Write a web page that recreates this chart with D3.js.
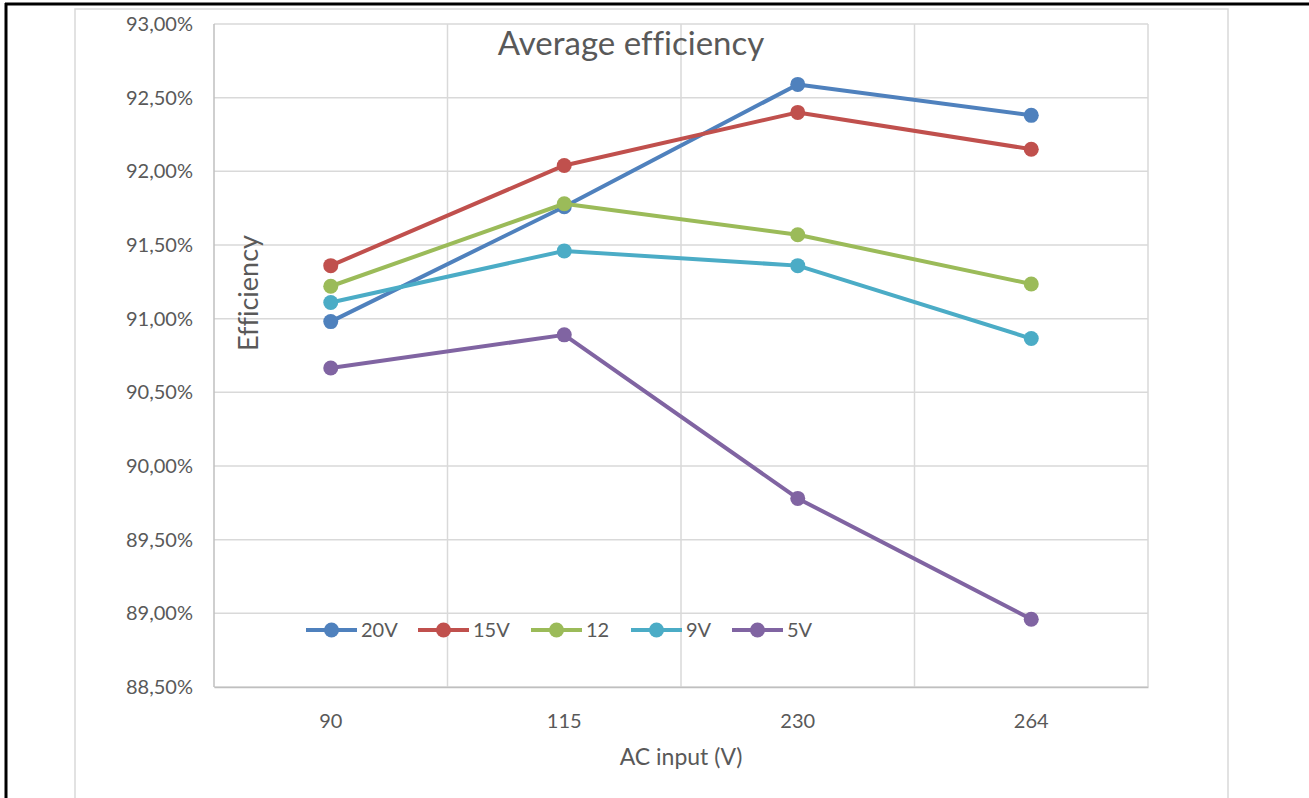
<!DOCTYPE html>
<html lang="en">
<head>
    <meta charset="UTF-8">
    <title>Average efficiency</title>
    <script src="https://d3js.org/d3.v7.min.js"></script>
    <style>
        body { margin: 0; background: white; }
        svg { font-family: Lato, "Open Sans", sans-serif; font-variant-ligatures: none; }
        .tick text { fill: #595959; }
    </style>
</head>
<body>
    <svg width="1309" height="798"></svg>
    <script>
        // data
        var categories = ["90", "115", "230", "264"];
        var seriesNames = ["20V", "15V", "12", "9V", "5V"];
        var v20 = [90.98, 91.76, 92.59, 92.38];
        var v15 = [91.36, 92.04, 92.40, 92.15];
        var v12 = [91.22, 91.78, 91.57, 91.235];
        var v9 = [91.11, 91.46, 91.36, 90.865];
        var v5 = [90.665, 90.89, 89.78, 88.96];
        var yTicks = [88.5, 89, 89.5, 90, 90.5, 91, 91.5, 92, 92.5, 93];
        var colors = ["#4F81BD", "#C0504D", "#9BBB59", "#4BACC6", "#8064A2"];

        var series = [v20, v15, v12, v9, v5].map(function(vals, i) {
            return { name: seriesNames[i], values: vals, color: colors[i] };
        });

        var svg = d3.select("svg");
        var plotLeft = 214, plotTop = 24, plotRight = 1148, plotBottom = 687;

        // page border + chart frame
        svg.append("line").attr("x1", 6).attr("y1", 3).attr("x2", 6).attr("y2", 798)
            .attr("stroke", "black").attr("stroke-width", 3);
        svg.append("line").attr("x1", 5).attr("y1", 4).attr("x2", 1309).attr("y2", 4)
            .attr("stroke", "black").attr("stroke-width", 3);
        svg.append("rect").attr("x", 75).attr("y", 9).attr("width", 1153).attr("height", 800)
            .attr("fill", "white").attr("stroke", "#d9d9d9").attr("stroke-width", 1.5);

        var x = d3.scaleBand().domain(categories).range([plotLeft, plotRight]);
        var y = d3.scaleLinear().domain([88.5, 93]).range([plotBottom, plotTop]);

        var fmt = function(d) { return d.toFixed(2).replace(".", ",") + "%"; };

        // horizontal grid
        svg.append("g").selectAll("line").data(yTicks).enter().append("line")
            .attr("x1", plotLeft).attr("x2", plotRight)
            .attr("y1", function(d) { return y(d); }).attr("y2", function(d) { return y(d); })
            .attr("stroke", "#d9d9d9").attr("stroke-width", 1.5);

        // vertical grid at band edges
        var edges = categories.map(function(c) { return x(c); }).concat([plotRight]);
        svg.append("g").selectAll("line").data(edges).enter().append("line")
            .attr("x1", function(d) { return d; }).attr("x2", function(d) { return d; })
            .attr("y1", plotTop).attr("y2", plotBottom)
            .attr("stroke", function(d, i) { return i === 0 ? "#bfbfbf" : "#d9d9d9"; })
            .attr("stroke-width", 1.5);

        // y axis labels
        var yAxis = svg.append("g").attr("transform", "translate(" + plotLeft + ",0)")
            .call(d3.axisLeft(y).tickValues(yTicks).tickFormat(fmt).tickSize(0).tickPadding(21));
        yAxis.select(".domain").remove();
        yAxis.selectAll("text").attr("font-size", "20px").attr("font-family", "Lato, sans-serif");

        // x axis labels
        var xAxis = svg.append("g").attr("transform", "translate(0," + plotBottom + ")")
            .call(d3.axisBottom(x).tickSize(0).tickPadding(27));
        xAxis.select(".domain").attr("stroke", "#bfbfbf").attr("stroke-width", 1.5);
        xAxis.selectAll("text").attr("font-size", "20px").attr("font-family", "Lato, sans-serif");

        // lines
        var line = d3.line()
            .x(function(d, i) { return x(categories[i]) + x.bandwidth() / 2; })
            .y(function(d) { return y(d); });

        var sg = svg.append("g").selectAll("g").data(series).enter().append("g");
        sg.append("path")
            .attr("d", function(s) { return line(s.values); })
            .attr("fill", "none")
            .attr("stroke", function(s) { return s.color; })
            .attr("stroke-width", 4)
            .attr("stroke-linejoin", "round");
        sg.selectAll("circle").data(function(s) { return s.values.map(function(v) { return { v: v, c: s.color }; }); })
            .enter().append("circle")
            .attr("cx", function(d, i) { return x(categories[i]) + x.bandwidth() / 2; })
            .attr("cy", function(d) { return y(d.v); })
            .attr("r", 7.5)
            .attr("fill", function(d) { return d.c; });

        // titles
        svg.append("text").attr("x", 631).attr("y", 55).attr("text-anchor", "middle")
            .attr("font-size", "33px").attr("fill", "#595959").text("Average efficiency");
        svg.append("text").attr("transform", "translate(258,293) rotate(-90)")
            .attr("text-anchor", "middle").attr("font-size", "27px").attr("fill", "#595959")
            .text("Efficiency");
        svg.append("text").attr("x", 681).attr("y", 765).attr("text-anchor", "middle")
            .attr("font-size", "23px").attr("fill", "#595959").text("AC input (V)");

        // legend
        var legendX = [306, 418, 531, 631, 732];
        var lg = svg.append("g").selectAll("g").data(series).enter().append("g")
            .attr("transform", function(d, i) { return "translate(" + legendX[i] + ",630)"; });
        lg.append("line").attr("x1", 0).attr("x2", 51).attr("y1", 0).attr("y2", 0)
            .attr("stroke", function(d) { return d.color; }).attr("stroke-width", 4);
        lg.append("circle").attr("cx", 25.5).attr("cy", 0).attr("r", 7.5)
            .attr("fill", function(d) { return d.color; });
        lg.append("text").attr("x", 55).attr("y", 7).attr("font-size", "20px")
            .attr("fill", "#595959").text(function(d) { return d.name; });
    </script>
</body>
</html>
